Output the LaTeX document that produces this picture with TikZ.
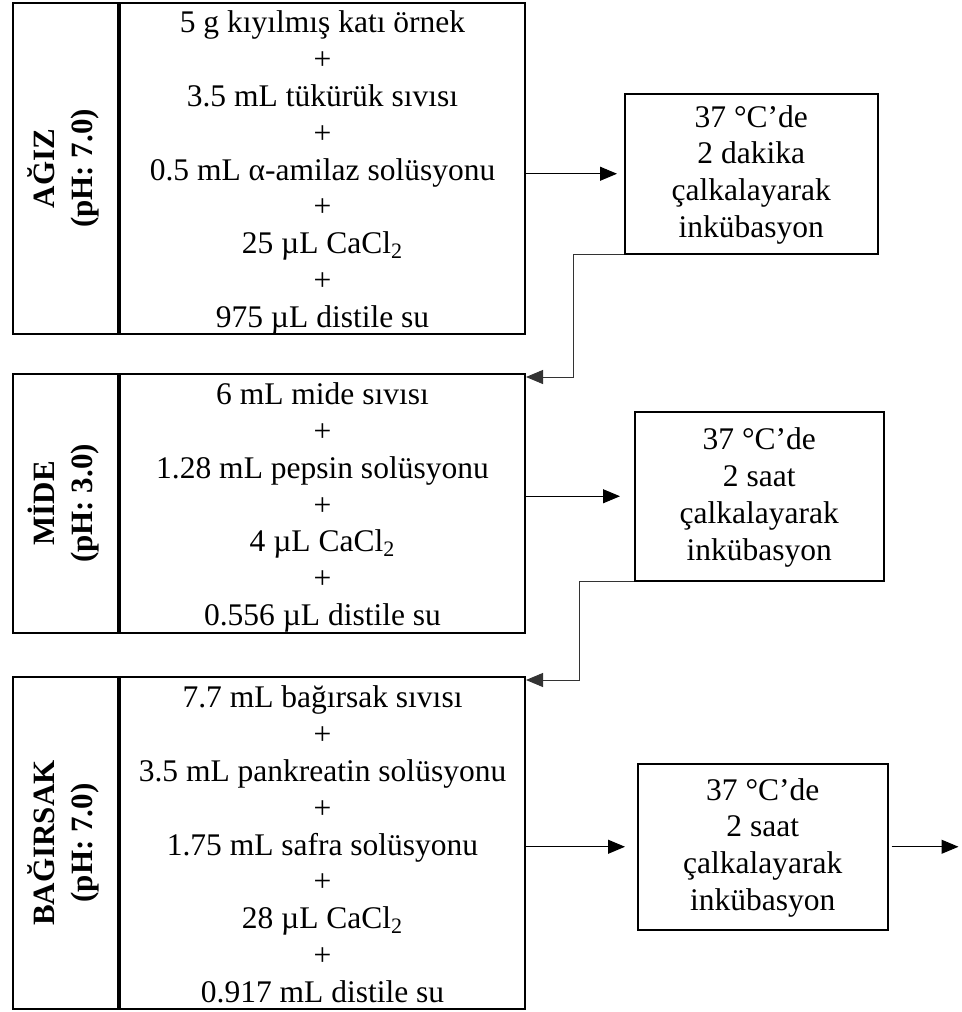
\documentclass[tikz,border=0pt]{standalone}
\usepackage{fontspec}
\setmainfont{Liberation Serif}
\usetikzlibrary{positioning,arrows.meta}
\newcommand{\topstrut}{\rule{0pt}{15pt}}
\newcommand{\botstrut}{\rule[-3pt]{0pt}{3pt}}
\newcommand{\phasetext}[2]{\rotatebox{90}{\begin{tabular}{@{}c@{}}#1\\#2\end{tabular}}}
\tikzset{
  phase/.style={
    draw,
    line width=1pt,
    inner sep=0pt,
    minimum width=52.5pt,
    font=\bfseries\fontsize{15.5}{19}\selectfont
  },
  recipe/.style={
    draw,
    line width=1pt,
    inner sep=0pt,
    align=center,
    minimum width=202.5pt,
    font=\fontsize{15.75}{18.4}\selectfont
  },
  incub/.style={
    draw,
    line width=0.75pt,
    inner sep=0pt,
    align=center,
    font=\fontsize{15.75}{18.4}\selectfont
  },
  feed/.style={
    -{Triangle[length=8.5pt,width=7pt]},
    line width=0.5pt,
    shorten >=5pt
  },
  link/.style={
    -{Triangle[length=8.5pt,width=7pt]},
    line width=0.5pt,
    black!80
  }
}
\begin{document}
\begin{tikzpicture}[x=0.5pt,y=-0.5pt]
    \useasboundingbox (0,0) rectangle (962,1012);
    % stages
    \node[phase, minimum height=165.5pt, anchor=north west] (agizL) at (12,2) {\phasetext{AĞIZ}{(pH: 7.0)}};
    \node[recipe, minimum height=165.5pt, right=0pt of agizL] (agizR) {\topstrut 5 g kıyılmış katı örnek\\+\\3.5 mL tükürük sıvısı\\+\\0.5 mL α-amilaz solüsyonu\\+\\25 µL CaCl\textsubscript{2}\\+\\975 µL distile su\botstrut};
    \node[phase, minimum height=129.5pt, anchor=north west] (mideL) at (12,373) {\phasetext{MİDE}{(pH: 3.0)}};
    \node[recipe, minimum height=129.5pt, right=0pt of mideL] (mideR) {\topstrut 6 mL mide sıvısı\\+\\1.28 mL pepsin solüsyonu\\+\\4 µL CaCl\textsubscript{2}\\+\\0.556 µL distile su\botstrut};
    \node[phase, minimum height=166pt, anchor=north west] (bagL) at (12,676) {\phasetext{BAĞIRSAK}{(pH: 7.0)}};
    \node[recipe, minimum height=166pt, right=0pt of bagL] (bagR) {\topstrut 7.7 mL bağırsak sıvısı\\+\\3.5 mL pankreatin solüsyonu\\+\\1.75 mL safra solüsyonu\\+\\28 µL CaCl\textsubscript{2}\\+\\0.917 mL distile su\botstrut};
    % incubations
    \node[incub, minimum width=126.5pt, minimum height=80pt, anchor=north west] (incA) at (624,93) {\rule{0pt}{12pt}37 °C’de\\2 dakika\\çalkalayarak\\inkübasyon};
    \node[incub, minimum width=124.5pt, minimum height=84.5pt, anchor=north west] (incB) at (634,411) {\rule{0pt}{12pt}37 °C’de\\2 saat\\çalkalayarak\\inkübasyon};
    \node[incub, minimum width=125pt, minimum height=83pt, anchor=north west] (incC) at (637,763) {\rule{0pt}{12pt}37 °C’de\\2 saat\\çalkalayarak\\inkübasyon};
    % arrows
    \draw[feed, shorten >=3.5pt] (incA.west -| agizR.east) -- (incA.west);
    \draw[feed, shorten >=7pt] (incB.west -| mideR.east) -- (incB.west);
    \draw[feed, shorten >=6pt] (incC.west -| bagR.east) -- (incC.west);
    \coordinate (done) at ([xshift=35pt]incC.east);
    \draw[feed, shorten <=1.5pt, shorten >=0pt] (incC.east) -- (done);
    \coordinate (mideIn) at ([yshift=-2pt]mideR.north east);
    \coordinate (bagIn) at ([yshift=-2pt]bagR.north east);
    \draw[link] (incA.south west) -- ++(-51,0) |- (mideIn);
    \draw[link] (incB.south west) -- ++(-55,0) |- (bagIn);
\end{tikzpicture}
\end{document}
